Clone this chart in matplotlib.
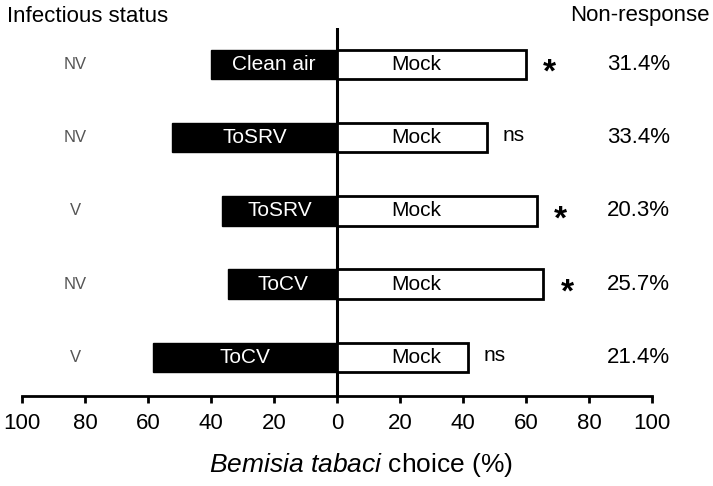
import matplotlib
matplotlib.use("Agg")
import matplotlib.pyplot as plt

plt.rcParams['font.family'] = ['Liberation Sans', 'DejaVu Sans']
plt.rcParams['mathtext.fontset'] = 'custom'
plt.rcParams['mathtext.rm'] = 'Liberation Sans'
plt.rcParams['mathtext.it'] = 'Liberation Sans:italic'

# rows from top to bottom
status = ['NV', 'NV', 'V', 'NV', 'V']
treatment = ['Clean air', 'ToSRV', 'ToSRV', 'ToCV', 'ToCV']
treat_pct = [40, 52.5, 36.5, 34.5, 58.5]
mock_pct = [60, 47.5, 63.5, 65.5, 41.5]
signif = ['*', 'ns', '*', '*', 'ns']
non_response = ['31.4%', '33.4%', '20.3%', '25.7%', '21.4%']

W, H = 713, 486
fig = plt.figure(figsize=(W / 100, H / 100), dpi=100)
ax = fig.add_axes([22 / W, 1 - 396 / H, 630 / W, 368 / H])

n = len(status)
ypos = [n - 1 - i for i in range(n)]

ax.barh(ypos, [-v for v in treat_pct], height=0.4, color='black', edgecolor='black', linewidth=1)
ax.barh(ypos, mock_pct, height=0.4, color='white', edgecolor='black', linewidth=2)
ax.axvline(0, color='black', linewidth=2.2, zorder=0.5)

for y, st, tr, tv, mv, sg, nr in zip(ypos, status, treatment, treat_pct, mock_pct, signif, non_response):
    ax.text(-tv / 2, y, tr, color='white', fontsize=15, ha='center', va='center')
    ax.text(25, y, 'Mock', color='black', fontsize=15, ha='center', va='center')
    ax.text(-83, y, st, color='#555555', fontsize=12, ha='center', va='center')
    if sg == '*':
        ax.text(mv + 7.5, y - 0.12, sg, fontsize=24, fontweight='bold', ha='center', va='center')
    else:
        ax.text(mv + 5, y + 0.03, sg, fontsize=15, ha='left', va='center')
    ax.text(95.7, y, nr, fontsize=16, ha='center', va='center')

ax.set_xlim(-100, 100)
ax.set_ylim(-0.53, 4.5)
ticks = list(range(-100, 101, 20))
ax.set_xticks(ticks)
ax.set_xticklabels([str(abs(t)) for t in ticks])
ax.set_yticks([])
for s in ['left', 'top', 'right']:
    ax.spines[s].set_visible(False)
ax.spines['bottom'].set_linewidth(2)
ax.tick_params(axis='x', direction='out', length=5, width=2, labelsize=16, pad=7)

fig.text(7 / W, 1 - 16 / H, 'Infectious status', fontsize=16, ha='left', va='center')
fig.text(640 / W, 1 - 16 / H, 'Non-response', fontsize=16, ha='center', va='center')
fig.text(361 / W, 1 - 465 / H, r'$\mathit{Bemisia\ tabaci}$ choice (%)', fontsize=19, ha='center', va='center')

fig.savefig('out.png', dpi=100)
